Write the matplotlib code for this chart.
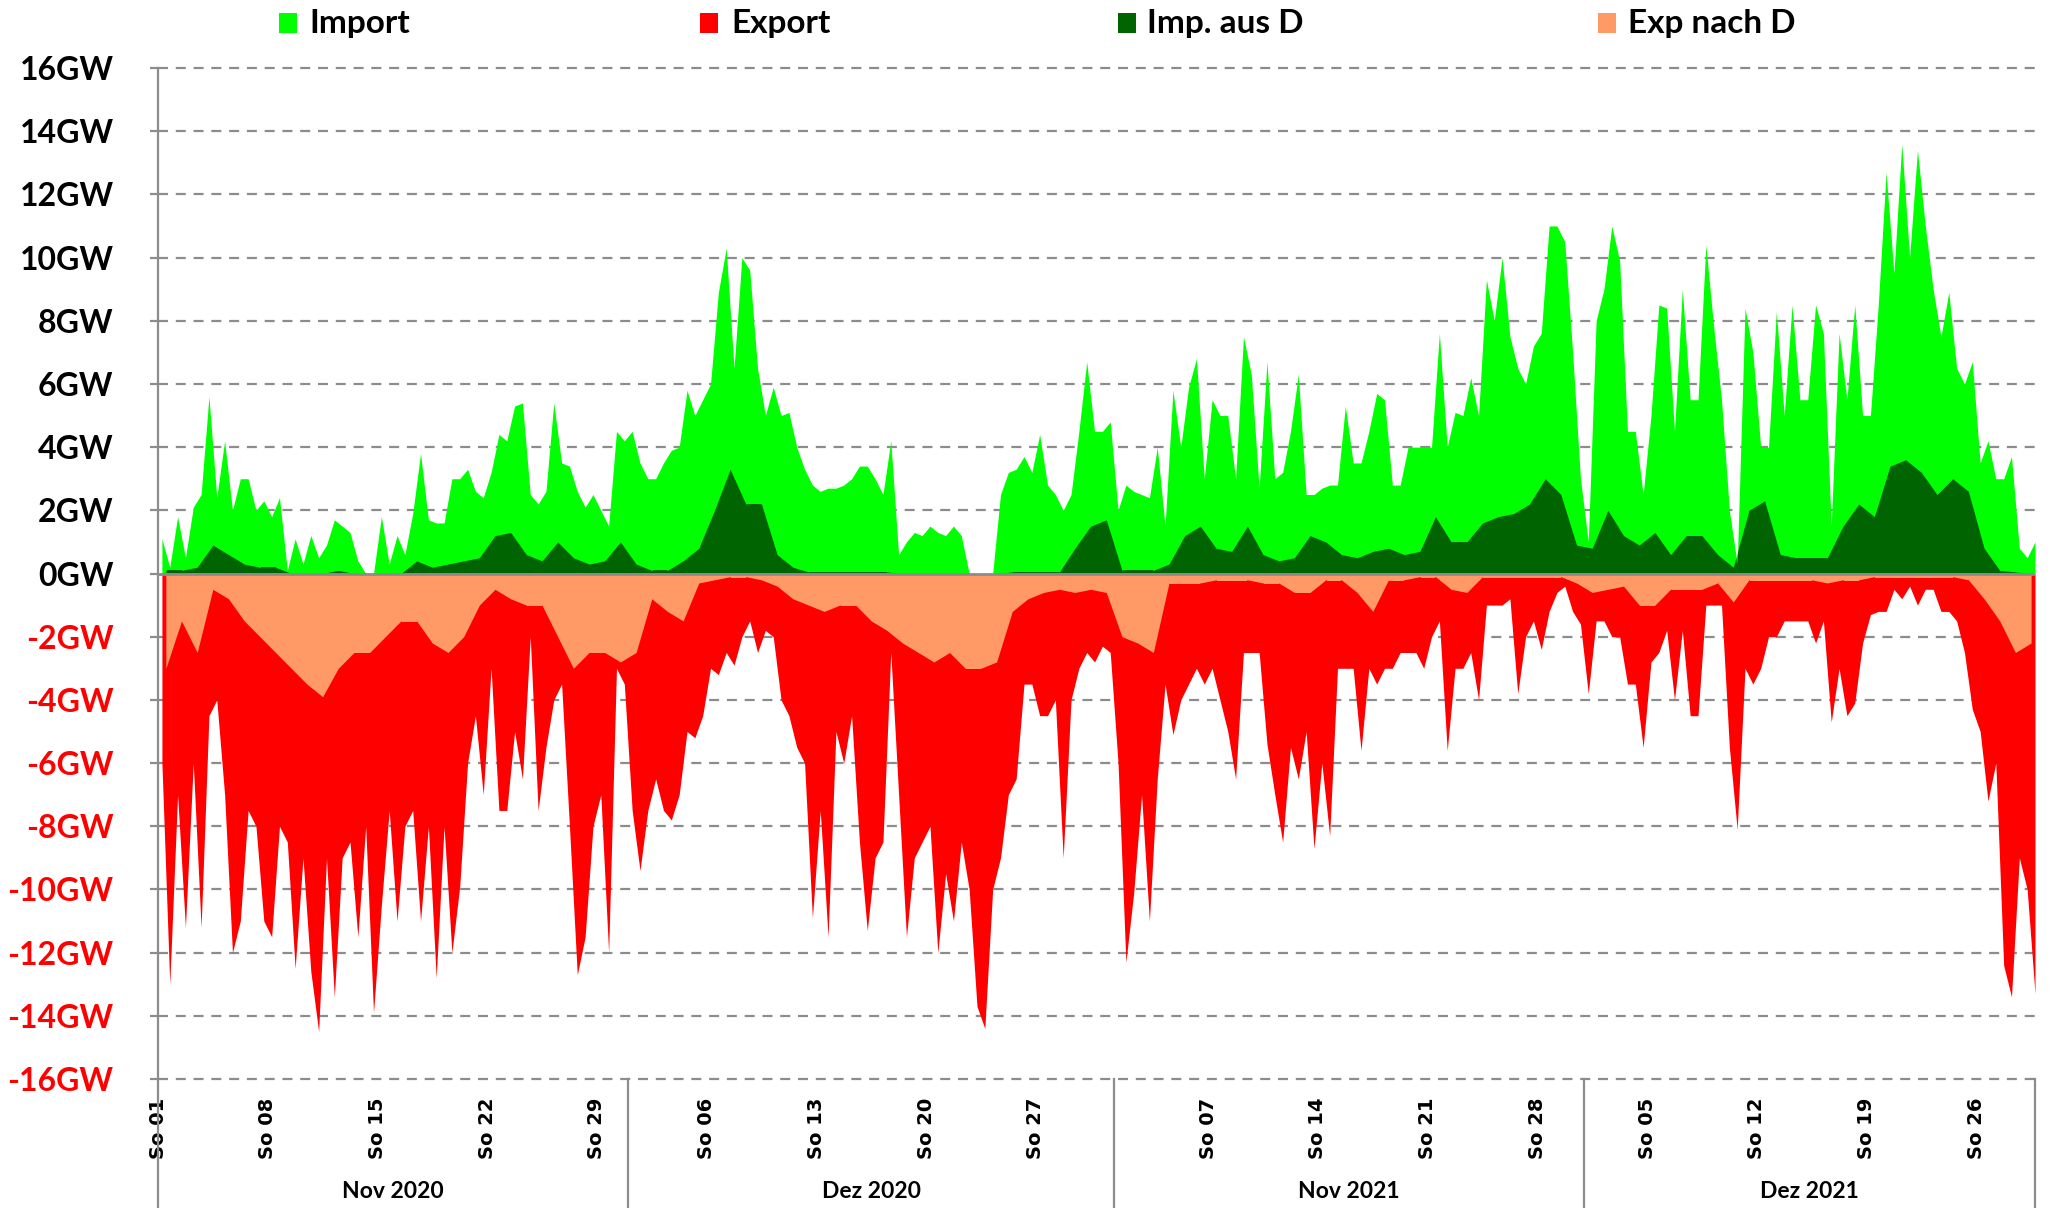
import numpy as np
import matplotlib
matplotlib.use("Agg")
import matplotlib.pyplot as plt
from matplotlib.patches import Rectangle
from matplotlib.transforms import blended_transform_factory

# ---------------- data (GW) ----------------
months = ["Nov 2020", "Dez 2020", "Nov 2021", "Dez 2021"]
month_start = [0, 30, 61, 91]          # day offset of each month block on the axis
month_len = [30, 31, 30, 28.75]        # days shown per block

# half-day values (00-12h, 12-24h) of total import
imp_nov20 = [1.1,0.2, 1.8,0.5, 2.1,2.5, 5.6,2.4, 4.2,2.0, 3.0,3.0, 2.0,2.3, 1.8,2.4, 0.1,1.1, 0.3,1.2,
             0.5,0.9, 1.7,1.5, 1.3,0.4, 0.0,0.0, 1.8,0.3, 1.2,0.6, 1.9,3.8, 1.7,1.6, 1.6,3.0, 3.0,3.3,
             2.6,2.4, 3.2,4.4, 4.2,5.3, 5.4,2.5, 2.2,2.6, 5.4,3.5, 3.4,2.6, 2.1,2.5, 2.0,1.5, 4.5,4.2]
imp_dec20 = [4.5,3.5, 3.0,3.0, 3.5,3.9, 4.0,5.8, 5.0,5.5, 6.0,8.9, 10.3,6.5, 10.0,9.6, 6.5,5.0, 5.9,5.0,
             5.1,4.0, 3.3,2.8, 2.6,2.7, 2.7,2.8, 3.0,3.4, 3.4,3.0, 2.5,4.2, 0.6,1.0, 1.3,1.2, 1.5,1.3,
             1.2,1.5, 1.2,0.0, 0.0,0.0, 0.0,2.5, 3.2,3.3, 3.7,3.2, 4.4,2.8, 2.5,2.0, 2.5,4.5, 6.7,4.5,
             4.5,4.8]
imp_nov21 = [2.0,2.8, 2.6,2.5, 2.4,4.0, 1.5,5.8, 4.0,5.9, 6.8,3.0, 5.5,5.0, 5.0,3.0, 7.5,6.3, 2.7,6.7,
             3.0,3.2, 4.5,6.3, 2.5,2.5, 2.7,2.8, 2.8,5.3, 3.5,3.5, 4.5,5.7, 5.5,2.8, 2.8,4.0, 4.0,4.0,
             4.0,7.6, 4.0,5.1, 5.0,6.2, 5.0,9.3, 8.0,10.0, 7.5,6.5, 6.0,7.2, 7.6,11.0, 11.0,10.5, 7.0,3.0]
imp_dec21 = [1.0,8.0, 9.0,11.0, 9.9,4.5, 4.5,2.5, 5.0,8.5, 8.4,4.5, 9.0,5.5, 5.5,10.4, 7.8,5.5, 2.0,0.3,
             8.4,7.0, 4.0,4.0, 8.3,5.0, 8.5,5.5, 5.5,8.5, 7.6,1.5, 7.6,5.5, 8.5,5.0, 5.0,8.5, 12.7,9.5,
             13.6,10.0, 13.4,11.0, 9.0,7.5, 8.9,6.5, 6.0,6.7, 3.5,4.2, 3.0,3.0, 3.7,0.8, 0.5,1.0]

# half-day values of total export (negative)
exp_nov20 = [-6,-13, -7,-11.2, -6,-11.2, -4.5,-4, -7,-12, -11,-7.5, -8,-11, -11.5,-8, -8.5,-12.5, -9,-12.6,
             -14.5,-9, -13.4,-9, -8.5,-11.5, -8,-13.9, -10.5,-7.5, -11,-8, -7.5,-11, -8,-12.8, -8,-12, -9.9,-6,
             -4.5,-7, -3,-7.5, -7.5,-5, -6.5,-2, -7.5,-5.5, -4,-3.5, -8,-12.7, -11.5,-8, -7,-12, -3,-3.5]
exp_dec20 = [-7.5,-9.4, -7.5,-6.5, -7.5,-7.8, -7,-5, -5.2,-4.5, -3,-3.2, -2.5,-2.9, -2,-1.5, -2.5,-1.8, -2,-4,
             -4.5,-5.5, -6,-10.9, -7.5,-11.5, -5,-6, -4.5,-8.5, -11.3,-9, -8.5,-2.5, -7,-11.5, -9,-8.5, -8,-12,
             -9.5,-11, -8.5,-10, -13.7,-14.4, -10,-9, -7,-6.5, -3.5,-3.5, -4.5,-4.5, -4,-9, -4,-3, -2.5,-2.8,
             -2.3,-2.5]
exp_nov21 = [-6,-12.3, -10.1,-7, -11,-6.5, -3.5,-5.1, -4,-3.5, -3,-3.5, -3,-4, -5,-6.5, -2.5,-2.5, -2.5,-5.4,
             -7,-8.5, -5.5,-6.5, -5,-8.7, -6,-8.3, -3,-3, -3,-5.6, -3,-3.5, -3,-3, -2.5,-2.5, -2.5,-3,
             -2,-1.5, -5.6,-3, -3,-2.5, -4,-1, -1,-1, -0.8,-3.8, -2,-1.5, -2.4,-1.2, -0.6,-0.4, -1.2,-1.6]
exp_dec21 = [-3.8,-1.5, -1.5,-2, -2,-3.5, -3.5,-5.5, -2.8,-2.5, -1.8,-4, -1.8,-4.5, -4.5,-1, -1,-1, -5.5,-8.1,
             -3,-3.5, -3,-2, -2,-1.5, -1.5,-1.5, -1.5,-2.2, -1.5,-4.7, -3,-4.5, -4.1,-2.2, -1.3,-1.2, -1.2,-0.5,
             -0.8,-0.4, -1,-0.5, -0.5,-1.2, -1.2,-1.5, -2.5,-4.3, -5,-7.2, -6,-12.4, -13.4,-9, -10,-13.3]

# daily values of import from Germany
impd_nov20 = [0.1,0.1,0.2,0.9,0.6,0.3,0.2,0.2,0.0,0.0, 0.0,0.1,0.0,0.0,0.0,0.0,0.4,0.2,0.3,0.4,
              0.5,1.2,1.3,0.6,0.4,1.0,0.5,0.3,0.4,1.0]
impd_dec20 = [0.3,0.1,0.1,0.4,0.8,2.0,3.3,2.2,2.2,0.6, 0.2,0.05,0.05,0.05,0.05,0.05,0.05,0.0,0.0,0.0,
              0.0,0.0,0.0,0.0,0.05,0.05,0.05,0.05,0.8,1.5,1.7]
impd_nov21 = [0.1,0.1,0.1,0.3,1.2,1.5,0.8,0.7,1.5,0.6, 0.4,0.5,1.2,1.0,0.6,0.5,0.7,0.8,0.6,0.7,
              1.8,1.0,1.0,1.6,1.8,1.9,2.2,3.0,2.5,0.9]
impd_dec21 = [0.8,2.0,1.2,0.9,1.3,0.6,1.2,1.2,0.6,0.2, 2.0,2.3,0.6,0.5,0.5,0.5,1.5,2.2,1.8,3.4,
              3.6,3.2,2.5,3.0,2.6,0.8,0.1,0.05,0.0]

# daily values of export to Germany (negative)
expd_nov20 = [-3,-1.5,-2.5,-0.5,-0.8,-1.5,-2,-2.5,-3,-3.5, -3.9,-3,-2.5,-2.5,-2,-1.5,-1.5,-2.2,-2.5,-2,
              -1,-0.5,-0.8,-1,-1,-2,-3,-2.5,-2.5,-2.8]
expd_dec20 = [-2.5,-0.8,-1.2,-1.5,-0.3,-0.2,-0.1,-0.1,-0.2,-0.4, -0.8,-1,-1.2,-1,-1,-1.5,-1.8,-2.2,-2.5,-2.8,
              -2.5,-3,-3,-2.8,-1.2,-0.8,-0.6,-0.5,-0.6,-0.5,-0.6]
expd_nov21 = [-2,-2.2,-2.5,-0.3,-0.3,-0.3,-0.2,-0.2,-0.2,-0.3, -0.3,-0.6,-0.6,-0.2,-0.2,-0.6,-1.2,-0.2,-0.2,-0.1,
              -0.1,-0.5,-0.6,-0.1,-0.1,-0.1,-0.1,-0.1,-0.1,-0.3]
expd_dec21 = [-0.6,-0.5,-0.4,-1,-1,-0.5,-0.5,-0.5,-0.3,-0.9, -0.2,-0.2,-0.2,-0.2,-0.2,-0.3,-0.2,-0.2,-0.1,-0.1,
              -0.1,-0.1,-0.1,-0.1,-0.2,-0.8,-1.5,-2.5,-2.2]

# Sunday tick labels: (month block, day of month)
sundays = [(0, 1), (0, 8), (0, 15), (0, 22), (0, 29),
           (1, 6), (1, 13), (1, 20), (1, 27),
           (2, 7), (2, 14), (2, 21), (2, 28),
           (3, 5), (3, 12), (3, 19), (3, 26)]

legend_labels = ["Import", "Export", "Imp. aus D", "Exp nach D"]
c_imp, c_exp, c_impd, c_expd = "#00FF00", "#FF0000", "#006400", "#FF9966"

# ---------------- x positions ----------------
def half_x(block, n):
    return month_start[block] + np.arange(n) * 0.5 + 0.25

def day_x(block, n):
    return month_start[block] + np.arange(n) + 0.5

imp_blocks = [imp_nov20, imp_dec20, imp_nov21, imp_dec21]
exp_blocks = [exp_nov20, exp_dec20, exp_nov21, exp_dec21]
impd_blocks = [impd_nov20, impd_dec20, impd_nov21, impd_dec21]
expd_blocks = [expd_nov20, expd_dec20, expd_nov21, expd_dec21]

xh = np.concatenate([half_x(b, len(v)) for b, v in enumerate(imp_blocks)])
imp = np.concatenate([np.array(v, float) for v in imp_blocks])
exp_ = np.concatenate([np.array(v, float) for v in exp_blocks])
xd = np.concatenate([day_x(b, len(v)) for b, v in enumerate(impd_blocks)])
impd = np.concatenate([np.array(v, float) for v in impd_blocks])
expd = np.concatenate([np.array(v, float) for v in expd_blocks])

# ---------------- figure ----------------
W, H = 2051, 1208
fig = plt.figure(figsize=(W / 100, H / 100), dpi=100)
ax = fig.add_axes([158 / W, 1 - 1079 / H, (2035 - 158) / W, (1079 - 68) / H])
ax.set_xlim(0, xh[-1])
ax.set_ylim(-16, 16)

p_imp = ax.fill_between(xh, 0, imp, color=c_imp, lw=0, zorder=2)
p_impd = ax.fill_between(xd, 0, impd, color=c_impd, lw=0, zorder=2.1)
p_impd.set_clip_path(p_imp.get_paths()[0], p_imp.get_transform())
p_exp = ax.fill_between(xh, 0, exp_, color=c_exp, lw=0, zorder=2)
p_expd = ax.fill_between(xd, 0, expd, color=c_expd, lw=0, zorder=2.1)
p_expd.set_clip_path(p_exp.get_paths()[0], p_exp.get_transform())

grey = "#8c8c8c"
for v in range(-16, 17, 2):
    if v != 0:
        ax.axhline(v, color=grey, lw=1.6, linestyle=(0, (4.5, 3.5)), zorder=1, clip_on=False)
ax.axhline(0, color=grey, lw=2, zorder=3)

for s in ["top", "right", "bottom"]:
    ax.spines[s].set_visible(False)
ax.spines["left"].set_color(grey)
ax.spines["left"].set_linewidth(1.6)
ax.spines["left"].set_zorder(4)

yt = list(range(-16, 17, 2))
ax.set_yticks(yt)
ax.set_yticklabels([f"{v}GW" for v in yt], fontsize=23, fontweight="bold", family="Lato")
for lab, v in zip(ax.get_yticklabels(), yt):
    lab.set_color("#FF0000" if v < 0 else "black")
ax.tick_params(axis="y", length=6, width=1.6, color=grey, pad=26)

xt = [month_start[b] + d - 1 for b, d in sundays]
ax.set_xticks(xt)
ax.set_xticklabels([f"So {d:02d}" for b, d in sundays], rotation=90,
                   fontsize=14, fontweight="bold", family="DejaVu Sans")
ax.tick_params(axis="x", length=0, pad=13.5)

# month separators and labels
trans_sep = blended_transform_factory(ax.transData, ax.transAxes)
sep_bottom = -(H - 1079) / (1079 - 68)
for xs in month_start + [xh[-1]]:
    ax.plot([xs, xs], [0, sep_bottom], color=grey, lw=1.6, transform=trans_sep, clip_on=False, zorder=5)
trans_lab = blended_transform_factory(ax.transData, fig.transFigure)
for name, st, ln in zip(months, month_start, month_len):
    ax.text(st + ln / 2, 1 - 1192 / H, name, transform=trans_lab, ha="center", va="center",
            fontsize=16.5, fontweight="bold", family="Lato")

# legend
sq_x = [279, 700, 1118, 1598]
tx_x = [309, 731, 1147, 1628]
for lab, col, sx, tx in zip(legend_labels, [c_imp, c_exp, c_impd, c_expd], sq_x, tx_x):
    fig.add_artist(Rectangle((sx / W, 1 - 33 / H), 18 / W, 20 / H, transform=fig.transFigure,
                             facecolor=col, edgecolor="none"))
    fig.text(tx / W, 1 - 23 / H, lab, ha="left", va="center", fontsize=24,
             fontweight="bold", family="Lato")

fig.savefig("out.png", dpi=100)
